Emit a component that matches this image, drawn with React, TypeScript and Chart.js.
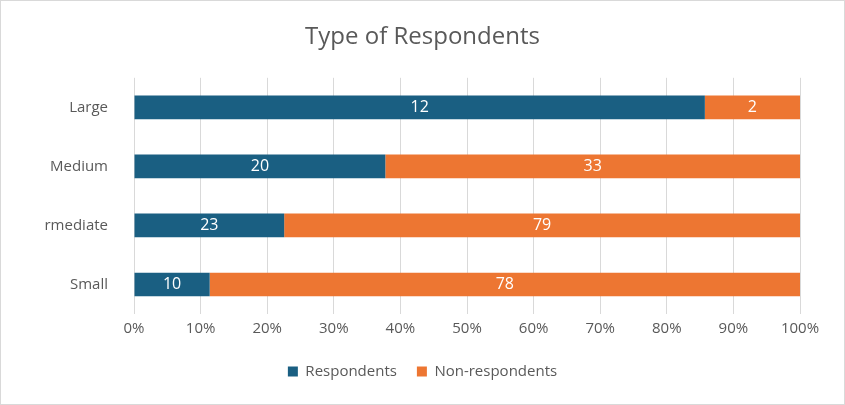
import React, { useEffect, useRef } from "react";
import { Chart, registerables } from "chart.js";
Chart.register(...registerables);

const categories = ["Large", "Medium", "Intermediate", "Small"];
const respondents = [12, 20, 23, 10];
const nonRespondents = [2, 33, 79, 78];
const tickLabels = ["0%", "10%", "20%", "30%", "40%", "50%", "60%", "70%", "80%", "90%", "100%"];

const pct = (a: number[], b: number[]) => a.map((v, i) => (v / (v + b[i])) * 100);

const labelPlugin = {
  id: "counts",
  afterDatasetsDraw(chart: any) {
    const ctx = chart.ctx;
    const raw = [respondents, nonRespondents];
    ctx.save();
    ctx.fillStyle = "#ffffff";
    ctx.font = "16px 'Open Sans', sans-serif";
    ctx.textAlign = "center";
    ctx.textBaseline = "middle";
    chart.data.datasets.forEach((ds: any, di: number) => {
      chart.getDatasetMeta(di).data.forEach((el: any, i: number) => {
        const p = el.getProps(["x", "y", "base"], true);
        ctx.fillText(String(raw[di][i]), (p.x + p.base) / 2, p.y);
      });
    });
    ctx.restore();
  },
};

export default function App() {
  const ref = useRef<HTMLCanvasElement>(null);
  useEffect(() => {
    document.body.style.margin = "0";
    const font = "'Open Sans', sans-serif";
    const chart = new Chart(ref.current!, {
      type: "bar",
      data: {
        labels: categories,
        datasets: [
          { label: "Respondents", data: pct(respondents, nonRespondents), backgroundColor: "#1a5f82", barPercentage: 0.4, categoryPercentage: 1 },
          { label: "Non-respondents", data: pct(nonRespondents, respondents), backgroundColor: "#ed7632", barPercentage: 0.4, categoryPercentage: 1 },
        ],
      },
      options: {
        indexAxis: "y",
        animation: false,
        responsive: false,
        layout: { padding: { left: 44, right: 44, top: 0, bottom: 15 } },
        scales: {
          x: {
            stacked: true,
            min: 0,
            max: 100,
            ticks: { stepSize: 10, color: "#595959", font: { size: 15, family: font }, callback: (_v: any, i: number) => tickLabels[i], padding: 6 },
            grid: { color: "#d9d9d9", drawTicks: false },
            border: { display: false },
          },
          y: {
            stacked: true,
            ticks: { color: "#595959", font: { size: 15, family: font }, padding: 18 },
            grid: { display: false },
            border: { display: false },
            afterFit: (s: any) => { s.width = 89; },
          },
        },
        plugins: {
          title: { display: true, text: "Type of Respondents", color: "#595959", font: { size: 24, family: font, weight: "normal" }, padding: { top: 22, bottom: 26 } },
          legend: {
            position: "bottom",
            labels: { color: "#595959", font: { size: 15, family: font }, boxWidth: 10, boxHeight: 10, padding: 20 },
          },
          tooltip: { enabled: false },
        },
      },
      plugins: [labelPlugin],
    } as any);
    return () => chart.destroy();
  }, []);
  return (
    <div style={{ width: 845, height: 405, boxSizing: "border-box", border: "1px solid #d9d9d9", background: "#fff" }}>
      <canvas ref={ref} width={843} height={403} />
    </div>
  );
}
